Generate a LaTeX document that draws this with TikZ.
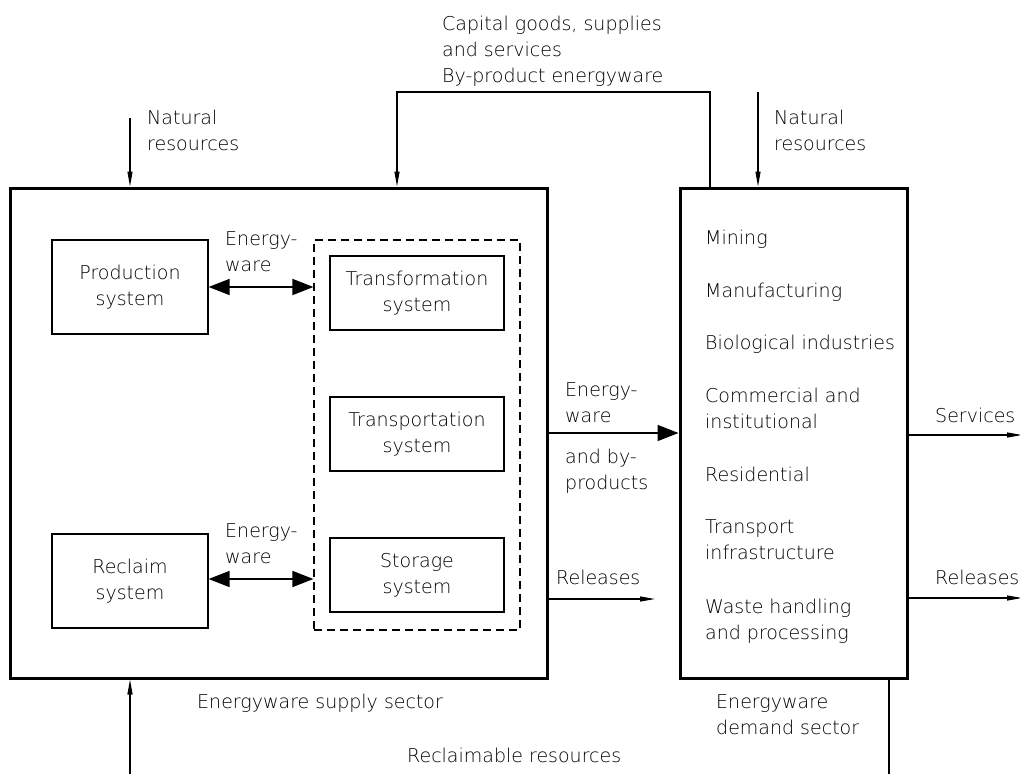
\documentclass[tikz,border=0pt]{standalone}
\usepackage{fontspec}
\setmainfont{DejaVu Sans}[UprightFont={* ExtraLight}]
\usetikzlibrary{arrows.meta,calc}
\begin{document}
\begin{tikzpicture}[x=1pt,y=-1pt,
  font=\fontsize{19}{26}\selectfont,
  sector/.style={draw,line width=3pt,minimum width=#1,inner sep=0pt},
  sysbox/.style={draw,line width=1.2pt,align=center,inner sep=0pt},
  lbl/.style={anchor=base west,align=left,inner sep=0pt},
  flow/.style={line width=1.2pt,-{Triangle[length=15pt,width=5pt]}},
  bigflow/.style={line width=1.6pt,-{Triangle[length=21pt,width=16pt]}},
  both/.style={line width=1.6pt,{Triangle[length=21pt,width=16pt]}-{Triangle[length=21pt,width=16pt]}},
  plain/.style={line width=1.2pt}]
\useasboundingbox[fill=white] (0,0) rectangle (1020,774);

% sectors
\node[sector=537pt,minimum height=490pt] (supply) at (278.5,433) {};
\node[sector=227pt,minimum height=490pt] (demand) at (793.5,433) {};

% supply-side systems
\node[sysbox,minimum width=156pt,minimum height=94pt] (prod) at (130,287) {Production\\system};
\node[sysbox,minimum width=156pt,minimum height=94pt] (recl) at (130,581) {Reclaim\\system};
\node[draw,line width=1.2pt,dash pattern=on 8pt off 5pt,minimum width=206pt,minimum height=390pt,inner sep=0pt] (group) at (417,435) {};
\node[sysbox,minimum width=174pt,minimum height=74pt] (trf) at (417,293) {Transformation\\system};
\node[sysbox,minimum width=174pt,minimum height=74pt] (trp) at (417,434) {Transportation\\system};
\node[sysbox,minimum width=174pt,minimum height=74pt] (sto) at (417,575) {Storage\\system};

% exchanges inside the supply sector (labels anchored on their last line)
\draw[both] (prod.east) -- (prod.east -| group.west);
\draw[both] ($(recl.east)+(0,-2)$) -- ($(recl.east -| group.west)+(0,-2)$);
\node[lbl] (ew1) at (225,271) {Energy-\\ware};
\node[lbl] (ew2) at (225,563) {Energy-\\ware};

% external inputs
\coordinate (natL) at (130,118);
\draw[flow] (natL) -- (natL |- supply.north);
\node[lbl] (natLt) at (147,150) {Natural\\resources};

\coordinate (natR) at (758,92);
\draw[flow] (natR) -- (natR |- demand.north);
\node[lbl] (natRt) at (774,150) {Natural\\resources};

\coordinate (fbA) at (710,188);
\coordinate (fbB) at (397,188);
\draw[flow] (fbA |- demand.north) -- ($(fbA)+(0,-96)$) -| (fbB |- supply.north);
\node[lbl] (capt) at (442,82) {Capital goods, supplies\\and services\\By-product energyware};

% supply to demand
\draw[bigflow] (supply.east) -- (demand.west);
\node[lbl] (ew3) at (565,422) {Energy-\\ware};
\node[lbl] (ew4) at (565,489) {and by-\\products};

\coordinate (relL) at (655,599);
\draw[flow] (supply.east |- relL) -- (relL);
\node[lbl] (relLt) at (556,584) {Releases};

% demand sector activities
\node[lbl] (mining) at (705,244) {Mining};
\node[lbl] (manuf) at (705,297) {Manufacturing};
\node[lbl] (bio) at (705,349) {Biological industries};
\node[lbl] (comm) at (705,428) {Commercial and\\institutional};
\node[lbl] (resid) at (705,481) {Residential};
\node[lbl] (trans) at (705,559) {Transport\\infrastructure};
\node[lbl] (waste) at (705,639) {Waste handling\\and processing};

% demand outputs
\coordinate (serv) at (1022,435);
\draw[flow] (demand.east |- serv) -- (serv);
\node[lbl] (servt) at (935,422) {Services};
\coordinate (relR) at (1022,598);
\draw[flow] (demand.east |- relR) -- (relR);
\node[lbl] (relRt) at (935,584) {Releases};

% bottom
\coordinate (recIn) at (130,774);
\draw[flow] (recIn) -- (recIn |- supply.south);
\coordinate (recOut) at (889,774);
\draw[plain] (recOut |- demand.south) -- (recOut);
\node[lbl] (supt) at (197,708) {Energyware supply sector};
\node[lbl] (demt) at (716,734) {Energyware\\demand sector};
\node[lbl] (rect) at (407,762) {Reclaimable resources};
\end{tikzpicture}
\end{document}
